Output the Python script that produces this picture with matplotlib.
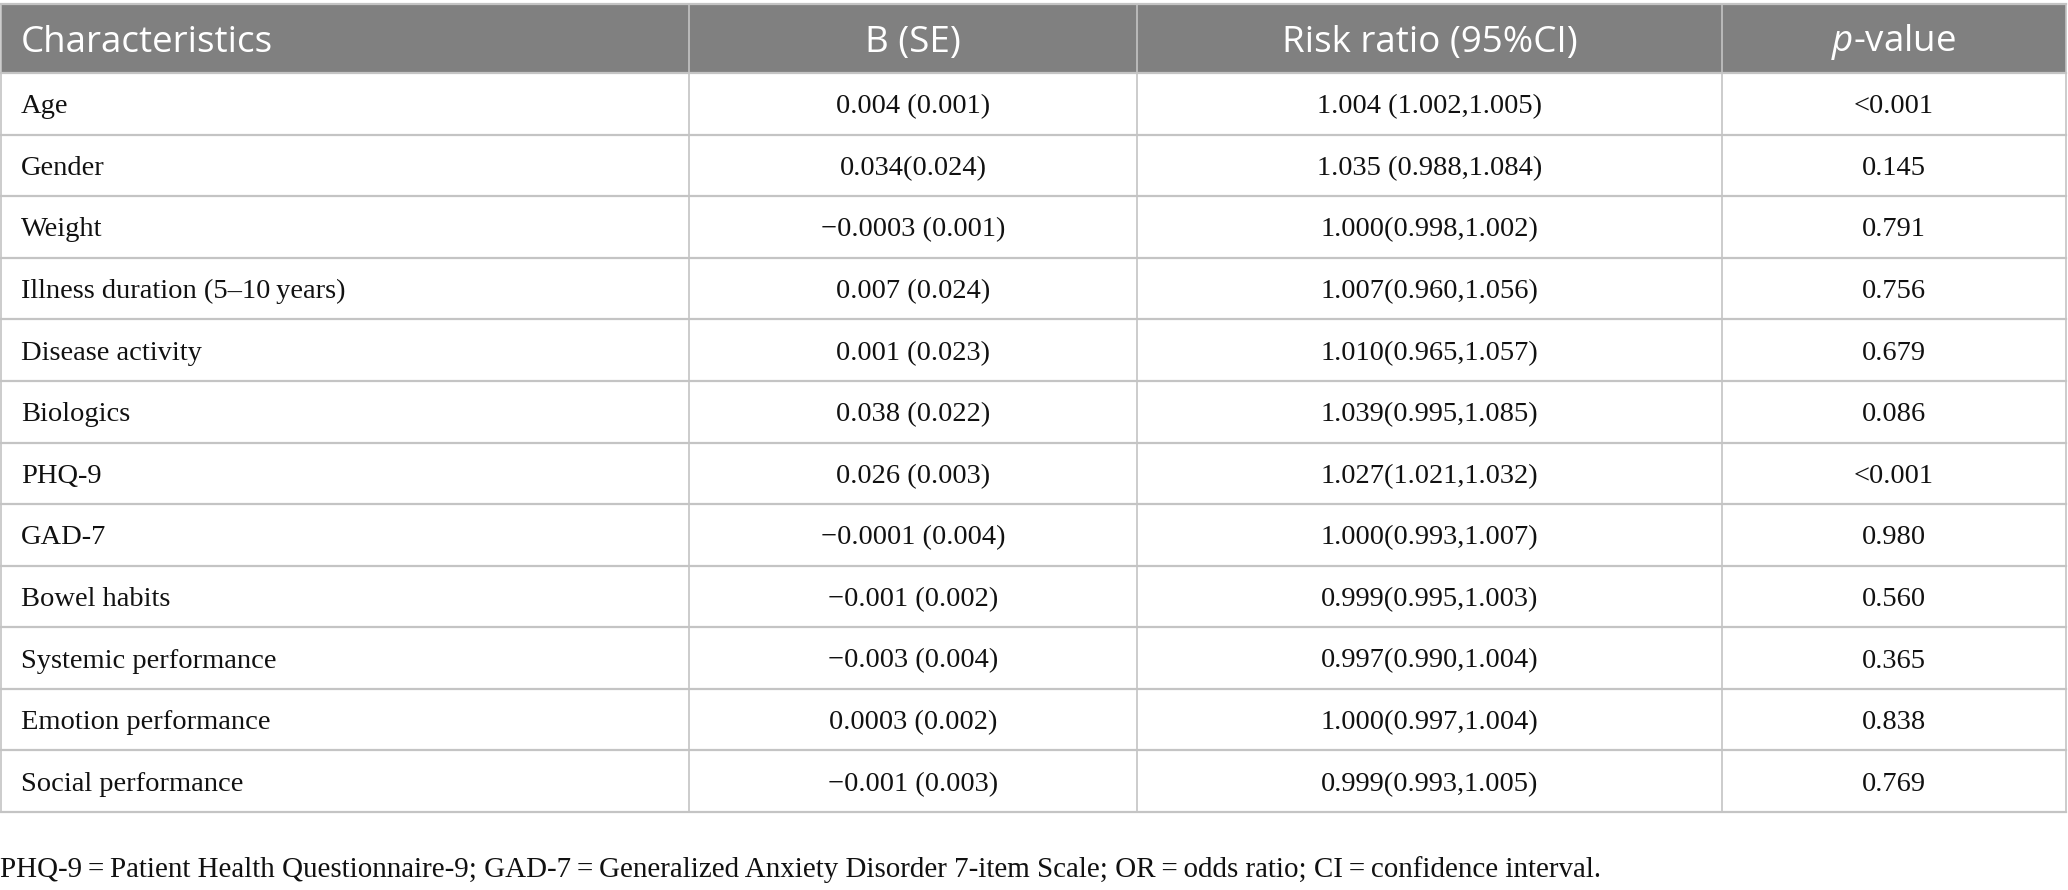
import matplotlib.pyplot as plt
from matplotlib.patches import Rectangle

# 表格数据
headers = ["Characteristics", "B (SE)", "Risk ratio (95%CI)", r"$\mathit{p}$-value"]
characteristics = ["Age", "Gender", "Weight", "Illness duration (5\u201310\u2009years)",
                   "Disease activity", "Biologics", "PHQ-9", "GAD-7", "Bowel habits",
                   "Systemic performance", "Emotion performance", "Social performance"]
b_se = ["0.004 (0.001)", "0.034(0.024)", "\u22120.0003 (0.001)", "0.007 (0.024)",
        "0.001 (0.023)", "0.038 (0.022)", "0.026 (0.003)", "\u22120.0001 (0.004)",
        "\u22120.001 (0.002)", "\u22120.003 (0.004)", "0.0003 (0.002)", "\u22120.001 (0.003)"]
risk_ratio = ["1.004 (1.002,1.005)", "1.035 (0.988,1.084)", "1.000(0.998,1.002)",
              "1.007(0.960,1.056)", "1.010(0.965,1.057)", "1.039(0.995,1.085)",
              "1.027(1.021,1.032)", "1.000(0.993,1.007)", "0.999(0.995,1.003)",
              "0.997(0.990,1.004)", "1.000(0.997,1.004)", "0.999(0.993,1.005)"]
p_values = ["<0.001", "0.145", "0.791", "0.756", "0.679", "0.086", "<0.001",
            "0.980", "0.560", "0.365", "0.838", "0.769"]
footnote = ("PHQ-9\u2009=\u2009Patient Health Questionnaire-9; GAD-7\u2009=\u2009Generalized Anxiety "
            "Disorder 7-item Scale; OR\u2009=\u2009odds ratio; CI\u2009=\u2009confidence interval.")

# 版式（像素坐标）
W, H = 2068, 890
col_edges = [1, 689, 1137, 1722, 2066]
head_top, head_bot = 4, 73
row_h = (812 - 73) / len(characteristics)
head_color = "#808080"
line_color = "#c4c4c4"
body_fs = 20.5
head_fs = 26.5

plt.rcParams['mathtext.fontset'] = 'custom'
plt.rcParams['mathtext.rm'] = 'Open Sans'
plt.rcParams['mathtext.it'] = 'Open Sans:italic'

fig = plt.figure(figsize=(W / 100, H / 100), dpi=100)
ax = fig.add_axes([0, 0, 1, 1])
ax.set_xlim(0, W)
ax.set_ylim(H, 0)
ax.axis('off')

# 表头
ax.add_patch(Rectangle((col_edges[0], head_top), col_edges[-1] - col_edges[0],
                       head_bot - head_top, facecolor=head_color, edgecolor='none'))
hy = (head_top + head_bot) / 2 + 4
for i, h in enumerate(headers):
    if i == 0:
        ax.text(col_edges[0] + 20, hy, h, ha='left', va='center', color='white',
                fontsize=head_fs, family='Open Sans')
    else:
        ax.text((col_edges[i] + col_edges[i + 1]) / 2, hy, h, ha='center', va='center',
                color='white', fontsize=head_fs, family='Open Sans')

# 数据行
cols = [characteristics, b_se, risk_ratio, p_values]
n = len(characteristics)
for r in range(n):
    cy = head_bot + (r + 0.5) * row_h + 3
    for c, col in enumerate(cols):
        if c == 0:
            ax.text(col_edges[0] + 20, cy, col[r], ha='left', va='center',
                    fontsize=body_fs, family='Liberation Serif', color='#111111')
        else:
            ax.text((col_edges[c] + col_edges[c + 1]) / 2, cy, col[r], ha='center',
                    va='center', fontsize=body_fs, family='Liberation Serif', color='#111111')

# 网格线
bottom = head_bot + n * row_h
for r in range(n + 1):
    y = head_bot + r * row_h
    ax.plot([col_edges[0], col_edges[-1]], [y, y], color=line_color, lw=1.6)
ax.plot([col_edges[0], col_edges[-1]], [head_top, head_top], color=line_color, lw=1.6)
for x in col_edges:
    ax.plot([x, x], [head_top, bottom], color=line_color, lw=1.2)

# 脚注
ax.text(0, 870, footnote, ha='left', va='center', fontsize=20.9,
        family='Liberation Serif', color='#111111')

fig.savefig('out.png', dpi=100)
